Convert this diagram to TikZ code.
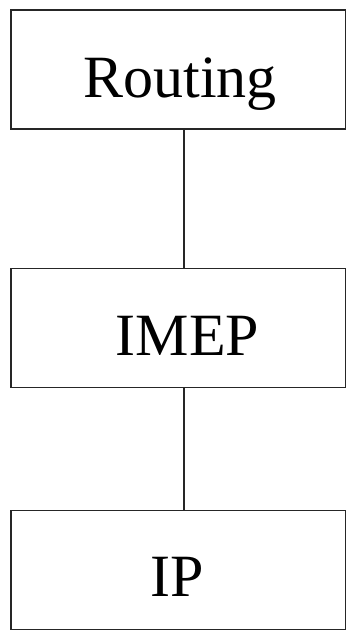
\documentclass[tikz,border=0pt]{standalone}
\usepackage{fontspec}
\setmainfont{Liberation Serif}
\begin{document}
\begin{tikzpicture}[x=1pt,y=-1pt,
  layerbox/.style={draw=black!85, line width=1.3pt, rectangle,
    minimum width=334.5pt, minimum height=119pt, inner sep=0pt},
  layertext/.style={anchor=base, font=\fontsize{60}{72}\selectfont, inner sep=0pt},
  link/.style={draw=black!85, line width=1.3pt}]
  \useasboundingbox (0,0) rectangle (346,630);
  \clip (0,0) rectangle (346,630);
  % protocol layers
  \node[layerbox] (routing) at (178.25,69.5) {};
  \node[layerbox] (imep) at (178.25,328) {};
  \node[layerbox] (ip) at (178.25,570.25) {};
  \node[layertext] (troute) at (180,97) {Routing};
  \node[layertext] (timep) at (187.5,355) {IMEP};
  \node[layertext] (tip) at (177,596) {IP};
  % vertical links between layers
  \coordinate (spine) at (184,0);
  \draw[link] (routing.south -| spine) -- (imep.north -| spine);
  \draw[link] (imep.south -| spine) -- (ip.north -| spine);
\end{tikzpicture}
\end{document}
